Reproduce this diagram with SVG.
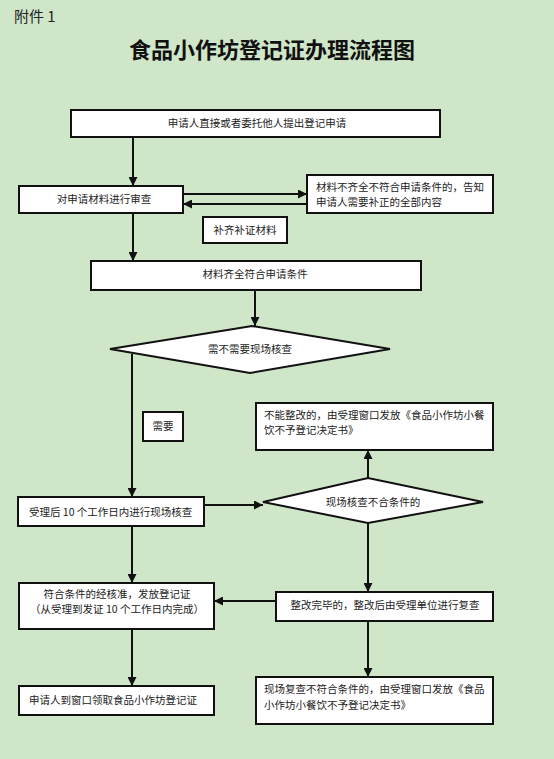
<svg xmlns="http://www.w3.org/2000/svg" width="554" height="759" viewBox="0 0 554 759">
<style>
.bg{fill:#cfe6c9}
.box{fill:#fff;stroke:#111;stroke-width:2}
.t{font-family:"Noto Sans CJK SC","Liberation Sans",sans-serif;font-size:10.5px;fill:#222}
.c{text-anchor:middle}
.ln{stroke:#111;stroke-width:2;fill:none}
</style>
<defs>
<marker id="ah" viewBox="0 0 10 10" refX="10" refY="5" markerWidth="4.5" markerHeight="4.5" orient="auto" markerUnits="strokeWidth">
<path d="M0,0 L10,5 L0,10 z" fill="#111"/>
</marker>
</defs>
<rect class="bg" x="0" y="0" width="554" height="759"/>
<text x="14" y="22" style="font-family:'Noto Sans CJK SC',sans-serif;font-size:15px;fill:#222">附件 1</text>
<text x="272" y="58" text-anchor="middle" style="font-family:'Noto Sans CJK SC',sans-serif;font-size:22px;font-weight:bold;fill:#111">食品小作坊登记证办理流程图</text>

<g id="connectors">
<line class="ln" x1="133" y1="137" x2="133" y2="186" marker-end="url(#ah)"/>
<line class="ln" x1="183" y1="194" x2="307" y2="194" marker-end="url(#ah)"/>
<line class="ln" x1="307" y1="204" x2="183" y2="204" marker-end="url(#ah)"/>
<line class="ln" x1="133" y1="213" x2="133" y2="261" marker-end="url(#ah)"/>
<line class="ln" x1="255" y1="290" x2="255" y2="326" marker-end="url(#ah)"/>
<line class="ln" x1="132" y1="354" x2="132" y2="497" marker-end="url(#ah)"/>
<line class="ln" x1="204" y1="505" x2="263" y2="505" marker-end="url(#ah)"/>
<line class="ln" x1="368" y1="478" x2="368" y2="450" marker-end="url(#ah)"/>
<line class="ln" x1="368" y1="523" x2="368" y2="592" marker-end="url(#ah)"/>
<line class="ln" x1="276" y1="601" x2="214" y2="601" marker-end="url(#ah)"/>
<line class="ln" x1="132" y1="526" x2="132" y2="583" marker-end="url(#ah)"/>
<line class="ln" x1="132" y1="629" x2="132" y2="686" marker-end="url(#ah)"/>
<line class="ln" x1="368" y1="621" x2="368" y2="677" marker-end="url(#ah)"/>
</g>

<g id="n1"><rect class="box" x="71" y="110" width="369" height="27"/><text class="t c" x="257" y="127">申请人直接或者委托他人提出登记申请</text></g>
<g id="n2"><rect class="box" x="19" y="186" width="164" height="27"/><text class="t c" x="104" y="203">对申请材料进行审查</text></g>
<g id="n3"><rect class="box" x="307" y="175" width="186" height="38"/><text class="t" x="316" y="191">材料不齐全不符合申请条件的，告知</text><text class="t" x="316" y="206">申请人需要补正的全部内容</text></g>
<g id="n4"><rect class="box" x="203" y="217" width="84" height="26"/><text class="t c" x="245" y="234">补齐补证材料</text></g>
<g id="n5"><rect class="box" x="91" y="261" width="330" height="29"/><text class="t c" x="255" y="278">材料齐全符合申请条件</text></g>
<g id="n6"><polygon class="box" points="110,349 252,326 390,349 250,373"/><text class="t c" x="250" y="353">需不需要现场核查</text></g>
<g id="n7"><rect class="box" x="143" y="412" width="40" height="29"/><text class="t c" x="163" y="430">需要</text></g>
<g id="n8"><rect class="box" x="18" y="497" width="186" height="29"/><text class="t" x="29" y="516">受理后 10 个工作日内进行现场核查</text></g>
<g id="n9"><polygon class="box" points="263,502 368,478 483,502 368,523"/><text class="t c" x="373" y="506">现场核查不合条件的</text></g>
<g id="n10"><rect class="box" x="256" y="403" width="237" height="47"/><text class="t" x="264" y="419">不能整改的，由受理窗口发放《食品小作坊小餐</text><text class="t" x="264" y="434">饮不予登记决定书》</text></g>
<g id="n11"><rect class="box" x="276" y="592" width="217" height="29"/><text class="t c" x="385" y="609">整改完毕的，整改后由受理单位进行复查</text></g>
<g id="n12"><rect class="box" x="19" y="583" width="195" height="46"/><text class="t c" x="117" y="598">符合条件的经核准，发放登记证</text><text class="t c" x="117" y="613">（从受理到发证 10 个工作日内完成）</text></g>
<g id="n13"><rect class="box" x="19" y="686" width="195" height="29"/><text class="t" x="29" y="704">申请人到窗口领取食品小作坊登记证</text></g>
<g id="n14"><rect class="box" x="256" y="677" width="237" height="47"/><text class="t" x="264" y="693">现场复查不符合条件的，由受理窗口发放《食品</text><text class="t" x="264" y="709">小作坊小餐饮不予登记决定书》</text></g>
</svg>
